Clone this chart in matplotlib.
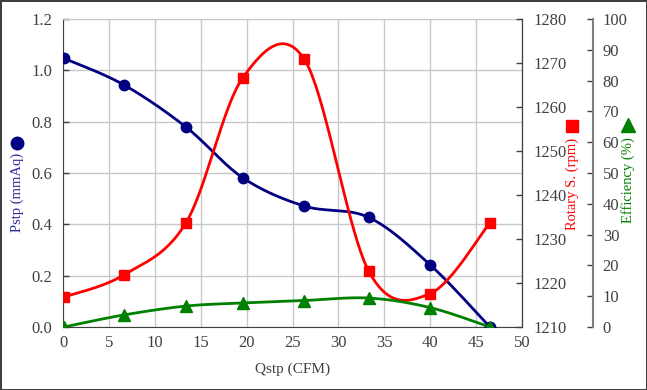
import matplotlib.pyplot as plt
import numpy as np

# data
qstp = [0.1, 6.6, 13.4, 19.6, 26.3, 33.3, 40.0, 46.5]
pstp = [1.047, 0.944, 0.779, 0.581, 0.471, 0.427, 0.242, 0.0]
rpm = [1216.8, 1221.8, 1233.7, 1266.7, 1270.8, 1222.7, 1217.6, 1233.7]
eff = [0.0, 3.9, 6.8, 7.8, 8.6, 9.4, 6.3, 0.0]

navy = "#000080"
red = "#ff0000"
green = "#008000"
grid_c = "#c8c8c8"
tick_c = "#404040"


def smooth(x, y, n=40):
    # excel-like smoothed line (catmull-rom as cubic bezier)
    p = np.column_stack([x, y]).astype(float)
    p_ext = np.vstack([p[0], p, p[-1]])
    out = []
    t = np.linspace(0, 1, n)[:, None]
    for i in range(len(p) - 1):
        p0, p1, p2, p3 = p_ext[i], p_ext[i + 1], p_ext[i + 2], p_ext[i + 3]
        c1 = p1 + (p2 - p0) / 6
        c2 = p2 - (p3 - p1) / 6
        seg = ((1 - t) ** 3) * p1 + 3 * ((1 - t) ** 2) * t * c1 + 3 * (1 - t) * t ** 2 * c2 + t ** 3 * p2
        out.append(seg)
    s = np.vstack(out)
    return s[:, 0], s[:, 1]


plt.rcParams['font.family'] = ['Liberation Serif', 'DejaVu Serif']
W, H = 647, 390
fig = plt.figure(figsize=(W / 100, H / 100), dpi=100)
fig.patch.set_edgecolor("#404040")
fig.patch.set_linewidth(2)

ax = fig.add_axes([63 / W, 1 - 327 / H, (522 - 63) / W, (327 - 19) / H])
ax2 = ax.twinx()
ax3 = ax.twinx()
ax3.spines['right'].set_position(('axes', (593 - 63) / (522 - 63)))

sx, sy = smooth(qstp, pstp)
ax.plot(sx, sy, color=navy, lw=2, zorder=3)
ax.plot(qstp, pstp, 'o', color=navy, ms=7.5, zorder=4)

sx, sy = smooth(qstp, rpm)
ax2.plot(sx, sy, color=red, lw=2)
ax2.plot(qstp, rpm, 's', color=red, ms=7.5)

sx, sy = smooth(qstp, eff)
ax3.plot(sx, sy, color=green, lw=2)
ax3.plot(qstp, eff, '^', color=green, ms=8)

ax.set_xlim(0, 50)
ax.set_ylim(0, 1.2)
ax.set_xticks(np.arange(0, 51, 5))
ax.set_yticks(np.arange(0, 1.21, 0.2))
ax.set_yticklabels([f"{v:.1f}" for v in np.arange(0, 1.21, 0.2)])
ax.grid(True, color=grid_c, lw=1)
ax.set_axisbelow(True)

ax2.set_ylim(1210, 1280)
ax2.set_yticks(np.arange(1210, 1281, 10))
ax3.set_ylim(0, 100)
ax3.set_yticks(np.arange(0, 101, 10))

for a in (ax, ax2, ax3):
    a.tick_params(labelsize=12, colors=tick_c, direction='in', length=4, width=1)
ax.tick_params(axis='x', length=0, pad=6)
ax.tick_params(axis='y', pad=8)
ax2.tick_params(pad=8)
ax3.tick_params(pad=7)

for s in ('left', 'bottom'):
    ax.spines[s].set_color("#404040")
ax.spines['top'].set_color(grid_c)
ax2.spines['top'].set_visible(False)
ax3.spines['top'].set_visible(False)
ax2.spines['right'].set_color("#404040")
ax3.spines['right'].set_color("#808080")
ax3.spines['right'].set_linewidth(1.5)
for a in (ax2, ax3):
    a.spines['left'].set_visible(False)
    a.spines['bottom'].set_visible(False)

ax.set_xlabel("Qstp (CFM)", fontsize=11, color=tick_c, labelpad=8)

# rotated axis titles with their marker symbol
fig.text(17 / W, 1 - 192 / H, "Pstp (mmAq)", rotation=90, color="#2b2b9b",
         fontsize=10.5, ha='center', va='center')
fig.text(572 / W, 1 - 184 / H, "Rotary S. (rpm)", rotation=90, color=red,
         fontsize=10.5, ha='center', va='center')
fig.text(628 / W, 1 - 180 / H, "Efficiency (%)", rotation=90, color=green,
         fontsize=10.5, ha='center', va='center')
fig.lines.append(plt.Line2D([17 / W], [1 - 143 / H], marker='o', ms=9, color=navy,
                            transform=fig.transFigure, figure=fig))
fig.lines.append(plt.Line2D([572 / W], [1 - 126 / H], marker='s', ms=9, color=red,
                            transform=fig.transFigure, figure=fig))
fig.lines.append(plt.Line2D([628 / W], [1 - 125 / H], marker='^', ms=10, color=green,
                            transform=fig.transFigure, figure=fig))

fig.savefig("out.png", dpi=100, edgecolor=fig.get_edgecolor())
